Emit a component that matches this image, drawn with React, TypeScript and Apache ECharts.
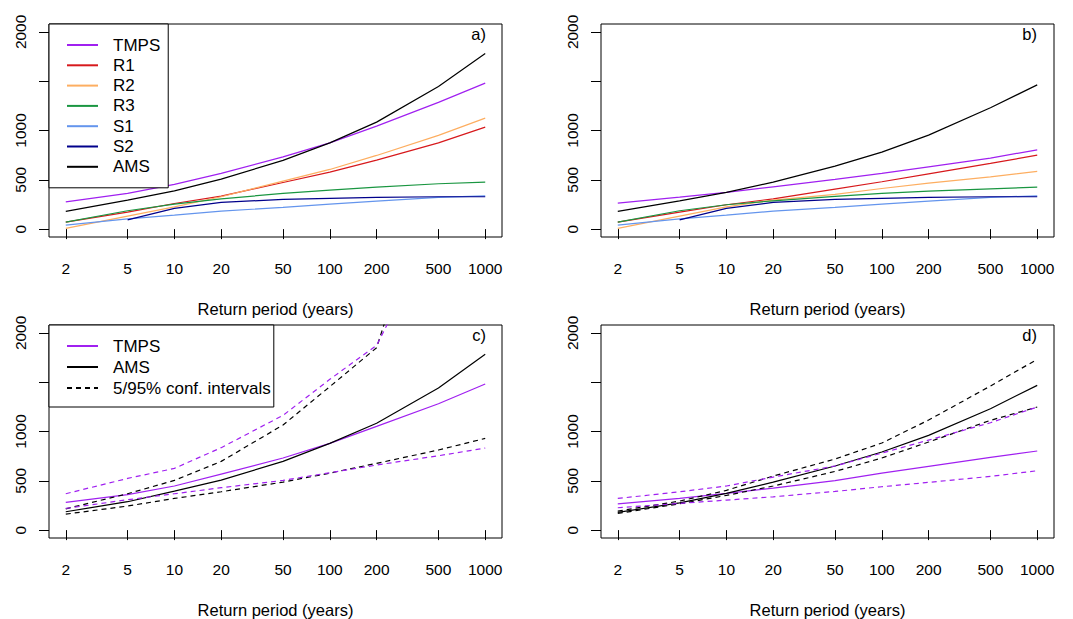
import React, { useEffect, useRef } from "react";
import * as echarts from "echarts";

const T = [2, 5, 10, 20, 50, 100, 200, 500, 1000];
const X_TICKS = [2, 5, 10, 20, 50, 100, 200, 500, 1000];
const Y_TICKS = [0, 500, 1000, 1500, 2000];
const Y_LABELS = [0, 500, 1000, 2000];

// panel a
const A_TMPS = [277, 362, 453, 565, 733, 875, 1044, 1285, 1480];
const A_R1 = [71, 172, 260, 335, 473, 578, 700, 875, 1034];
const A_R2 = [7, 132, 226, 328, 487, 605, 747, 950, 1126];
const A_R3 = [71, 186, 254, 307, 362, 395, 426, 460, 477];
const A_S1 = [41, 104, 142, 183, 220, 254, 284, 321, 338];
const A_S2 = [null, 94, 210, 271, 301, 311, 321, 328, 328];
const A_AMS = [179, 294, 388, 507, 697, 875, 1085, 1447, 1781];

// panel b
const B_TMPS = [264, 324, 372, 429, 504, 565, 632, 720, 804];
const B_R1 = [71, 172, 247, 307, 406, 480, 561, 666, 750];
const B_R2 = [7, 132, 226, 294, 352, 412, 466, 530, 585];
const B_R3 = [71, 186, 247, 287, 331, 362, 385, 409, 426];
const B_S1 = [41, 104, 142, 183, 220, 254, 284, 321, 338];
const B_S2 = [null, 94, 210, 271, 301, 311, 321, 328, 328];
const B_AMS = [179, 287, 372, 477, 639, 781, 953, 1230, 1463];

// panel c
const C_TMPS = [281, 359, 447, 568, 731, 880, 1052, 1282, 1482];
const C_AMS = [186, 288, 396, 507, 697, 880, 1083, 1441, 1783];
const C_TMPS_HI = [369, 524, 626, 836, 1164, 1529, 1874, 3100, 4300];
const C_TMPS_LO = [220, 308, 369, 430, 504, 582, 660, 754, 832];
const C_AMS_HI = [216, 369, 504, 697, 1066, 1455, 1850, 3800, 5200];
const C_AMS_LO = [162, 244, 321, 389, 487, 578, 677, 812, 930];

// panel d
const D_TMPS = [267, 321, 372, 426, 501, 578, 646, 738, 802];
const D_AMS = [179, 277, 372, 487, 650, 792, 961, 1231, 1468];
const D_TMPS_HI = [321, 389, 447, 538, 650, 781, 913, 1089, 1248];
const D_TMPS_LO = [227, 271, 304, 338, 392, 440, 484, 545, 602];
const D_AMS_HI = [193, 294, 403, 548, 721, 883, 1116, 1461, 1732];
const D_AMS_LO = [169, 267, 352, 447, 595, 731, 893, 1113, 1248];

const PANEL_LABELS = ["a)", "b)", "c)", "d)"];
const LEGEND_A = ["TMPS", "R1", "R2", "R3", "S1", "S2", "AMS"];
const LEGEND_C = ["TMPS", "AMS", "5/95% conf. intervals"];
const CONF = "5/95% conf. intervals";
const TMPS_CONF = "TMPS 5/95%";

const COLORS: Record<string, string> = {
  TMPS: "#A020F0",
  R1: "#D7191C",
  R2: "#FDAE61",
  R3: "#1A9641",
  S1: "#6495ED",
  S2: "#00008B",
  AMS: "#000000",
};

const FONT = "'Liberation Sans', Arial, Helvetica, sans-serif";

const XMIN = Math.log10(2) - 0.04 * (3 - Math.log10(2));
const XMAX = 3 + 0.04 * (3 - Math.log10(2));

function pts(vals: (number | null)[]) {
  const out: number[][] = [];
  vals.forEach((v, i) => {
    if (v !== null) out.push([Math.log10(T[i]), v]);
  });
  return out;
}

function line(name: string, vals: (number | null)[], grid: number, color: string, dashed = false) {
  return {
    type: "line",
    name,
    xAxisIndex: grid,
    yAxisIndex: grid,
    data: pts(vals),
    symbol: "none",
    showSymbol: false,
    smooth: false,
    clip: true,
    lineStyle: { color, width: 1.2, type: dashed ? [5, 4] : "solid" },
    itemStyle: { color },
    emphasis: { disabled: true },
  };
}

const GRIDS = [
  { left: 49, top: 24, width: 453, height: 213 },
  { left: 601, top: 24, width: 453, height: 213 },
  { left: 49, top: 325, width: 453, height: 214 },
  { left: 601, top: 325, width: 453, height: 214 },
];

export default function App() {
  const ref = useRef<HTMLDivElement>(null);
  useEffect(() => {
    if (!ref.current) return;
    const chart = echarts.init(ref.current, null, { renderer: "svg" });
    const xLog = X_TICKS.map((t) => Math.log10(t));
    const series: any[] = [
      line("TMPS", A_TMPS, 0, COLORS.TMPS),
      line("R1", A_R1, 0, COLORS.R1),
      line("R2", A_R2, 0, COLORS.R2),
      line("R3", A_R3, 0, COLORS.R3),
      line("S1", A_S1, 0, COLORS.S1),
      line("S2", A_S2, 0, COLORS.S2),
      line("AMS", A_AMS, 0, COLORS.AMS),

      line("TMPS", B_TMPS, 1, COLORS.TMPS),
      line("R1", B_R1, 1, COLORS.R1),
      line("R2", B_R2, 1, COLORS.R2),
      line("R3", B_R3, 1, COLORS.R3),
      line("S1", B_S1, 1, COLORS.S1),
      line("S2", B_S2, 1, COLORS.S2),
      line("AMS", B_AMS, 1, COLORS.AMS),

      line("TMPS", C_TMPS, 2, COLORS.TMPS),
      line("AMS", C_AMS, 2, COLORS.AMS),
      line(CONF, C_AMS_HI, 2, COLORS.AMS, true),
      line(CONF, C_AMS_LO, 2, COLORS.AMS, true),
      line(TMPS_CONF, C_TMPS_HI, 2, COLORS.TMPS, true),
      line(TMPS_CONF, C_TMPS_LO, 2, COLORS.TMPS, true),

      line("TMPS", D_TMPS, 3, COLORS.TMPS),
      line("AMS", D_AMS, 3, COLORS.AMS),
      line(CONF, D_AMS_HI, 3, COLORS.AMS, true),
      line(CONF, D_AMS_LO, 3, COLORS.AMS, true),
      line(TMPS_CONF, D_TMPS_HI, 3, COLORS.TMPS, true),
      line(TMPS_CONF, D_TMPS_LO, 3, COLORS.TMPS, true),
    ];

    const legendBase = {
      orient: "vertical",
      left: 49,
      itemWidth: 31,
      itemHeight: 14,
      borderColor: "#000",
      borderWidth: 1,
      borderRadius: 0,
      backgroundColor: "#fff",
      selectedMode: false,
      itemStyle: { opacity: 0 },
      textStyle: {
        fontSize: 17,
        color: "#000",
        fontFamily: FONT,
        padding: [0, 0, 0, 10],
      },
    };

    const option: any = {
      animation: false,
      backgroundColor: "#fff",
      grid: GRIDS.map((g) => ({ ...g, show: true, borderColor: "#000", borderWidth: 1, containLabel: false })),
      xAxis: GRIDS.map((_, i) => ({
        type: "value",
        gridIndex: i,
        min: XMIN,
        max: XMAX,
        axisLine: { show: false },
        splitLine: { show: false },
        axisTick: { show: true, length: 10, customValues: xLog, lineStyle: { color: "#000", width: 1 } },
        axisLabel: {
          customValues: xLog,
          formatter: (v: number) => String(Math.round(Math.pow(10, v))),
          margin: 23,
          fontSize: 15.5,
          color: "#000",
          fontFamily: FONT,
        },
        name: "Return period (years)",
        nameLocation: "middle",
        nameGap: 63,
        nameTextStyle: { fontSize: 16.5, color: "#000", fontFamily: FONT },
      })),
      yAxis: GRIDS.map((_, i) => ({
        type: "value",
        gridIndex: i,
        min: -80,
        max: 2080,
        axisLine: { show: false },
        splitLine: { show: false },
        axisTick: { show: true, length: 10, customValues: Y_TICKS, lineStyle: { color: "#000", width: 1 } },
        axisLabel: {
          customValues: Y_LABELS,
          formatter: (v: number) => String(v),
          rotate: 90,
          margin: 21,
          fontSize: 15.5,
          color: "#000",
          fontFamily: FONT,
        },
      })),
      legend: [
        { ...legendBase, top: 24, data: LEGEND_A, itemGap: 3.3, padding: [12.5, 8, 12.5, 17] },
        { ...legendBase, top: 325, data: LEGEND_C, itemGap: 4, padding: [12.5, 3, 10.5, 17] },
      ],
      graphic: PANEL_LABELS.map((txt, i) => ({
        type: "text",
        x: i % 2 === 0 ? 486 : 1037,
        y: i < 2 ? 34 : 335,
        style: {
          text: txt,
          fontSize: 16.5,
          fontFamily: FONT,
          fill: "#000",
          align: "right",
          verticalAlign: "middle",
        },
      })),
      series,
    };
    chart.setOption(option);
    return () => chart.dispose();
  }, []);
  return (
    <div
      ref={ref}
      style={{ position: "absolute", left: 0, top: 0, width: 1073, height: 619 }}
    />
  );
}
